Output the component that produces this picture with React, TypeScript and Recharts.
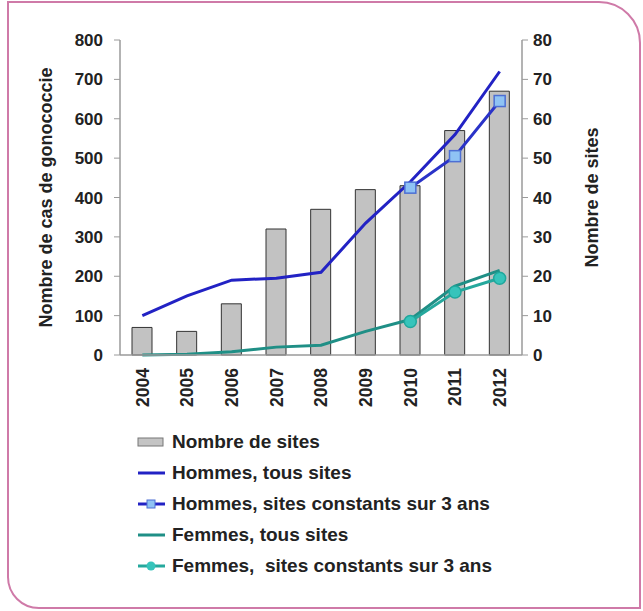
import React from "react";
import {
  ComposedChart,
  Bar,
  Line,
  XAxis,
  YAxis,
} from "recharts";

const years = ["2004", "2005", "2006", "2007", "2008", "2009", "2010", "2011", "2012"];
const nbSites = [7, 6, 13, 32, 37, 42, 43, 57, 67];
const hommesTous = [100, 150, 190, 195, 210, 335, 440, 560, 720];
const hommesConstants = [null, null, null, null, null, null, 425, 505, 645];
const femmesTous = [0, 2, 8, 20, 25, 60, 90, 175, 215];
const femmesConstants = [null, null, null, null, null, null, 85, 160, 195];

const leftTicks = [0, 100, 200, 300, 400, 500, 600, 700, 800];
const rightTicks = [0, 10, 20, 30, 40, 50, 60, 70, 80];

const data = years.map((year, i) => ({
  year,
  sites: nbSites[i],
  hommesTous: hommesTous[i],
  hommesConstants: hommesConstants[i],
  femmesTous: femmesTous[i],
  femmesConstants: femmesConstants[i],
}));

const FONT = "'Liberation Sans', Arial, sans-serif";
const BLUE = "#2222c4";
const TEAL = "#1f8f86";
const AXIS = "#9a9a9a";

const tickStyle = { fontSize: 17, fontWeight: 700, fill: "#222", fontFamily: FONT };
const titleStyle = { fontSize: 18, fontWeight: 700, fill: "#222", fontFamily: FONT };

// year labels, rotated to read bottom-to-top
function YearTick(props: any) {
  const { x, y, payload } = props;
  return (
    <g transform={`translate(${x},${y})`}>
      <text
        transform="rotate(-90)"
        x={-7}
        dy="0.36em"
        textAnchor="end"
        style={{ ...tickStyle, fontSize: 17.5 }}
      >
        {payload.value}
      </text>
    </g>
  );
}

function SquareDot(props: any) {
  const { cx, cy, value } = props;
  if (value == null) return null;
  return (
    <rect
      x={cx - 5.5}
      y={cy - 5.5}
      width={11}
      height={11}
      fill="#8fc3f4"
      stroke="#4d6fd4"
      strokeWidth={1.5}
    />
  );
}

function RoundDot(props: any) {
  const { cx, cy, value } = props;
  if (value == null) return null;
  return <circle cx={cx} cy={cy} r={6} fill="#36c4bb" stroke="#1fa79c" strokeWidth={1.5} />;
}

const legendItems = [
  { label: "Nombre de sites", kind: "bar" },
  { label: "Hommes, tous sites", kind: "line", color: BLUE },
  { label: "Hommes, sites constants sur 3 ans", kind: "square", color: BLUE },
  { label: "Femmes, tous sites", kind: "line", color: TEAL },
  { label: "Femmes,  sites constants sur 3 ans", kind: "circle", color: "#25a89d" },
];

function LegendIcon({ kind, color }: { kind: string; color?: string }) {
  return (
    <svg width={30} height={16} style={{ marginRight: 5 }}>
      {kind === "bar" ? (
        <rect x={1} y={4} width={25} height={8} fill="#c4c4c4" stroke="#777" />
      ) : (
        <line x1={1} y1={8} x2={28} y2={8} stroke={color} strokeWidth={3} />
      )}
      {kind === "square" && (
        <rect x={10} y={4} width={8} height={8} fill="#8fc3f4" stroke="#4d6fd4" />
      )}
      {kind === "circle" && <circle cx={14} cy={8} r={4.5} fill="#36c4bb" />}
    </svg>
  );
}

export default function App() {
  return (
    <div
      style={{
        position: "absolute",
        left: 0,
        top: 0,
        width: 643,
        height: 611,
        background: "#fff",
        fontFamily: FONT,
      }}
    >
      {/* pink frame */}
      <div
        style={{
          position: "absolute",
          left: 7,
          top: 1,
          width: 630,
          height: 604,
          border: "2px solid #cf7aa8",
          borderRadius: "0 42px 0 32px",
        }}
      />
      <ComposedChart
        width={643}
        height={611}
        data={data}
        margin={{ top: 40, right: 0, bottom: 0, left: 0 }}
        style={{ position: "absolute", left: 0, top: 0 }}
      >
        <XAxis
          dataKey="year"
          height={256}
          tick={<YearTick />}
          tickLine={false}
          tickMargin={0}
          axisLine={{ stroke: AXIS, strokeWidth: 1.5 }}
          interval={0}
        />
        <YAxis
          yAxisId="left"
          width={120}
          domain={[0, 800]}
          ticks={leftTicks}
          tick={tickStyle}
          tickSize={6}
          tickMargin={11}
          tickLine={{ stroke: AXIS }}
          axisLine={{ stroke: AXIS, strokeWidth: 1.5 }}
          interval={0}
          label={{
            value: "Nombre de cas de gonococcie",
            angle: -90,
            position: "insideLeft",
            dx: 41,
            style: { ...titleStyle, textAnchor: "middle" },
          }}
        />
        <YAxis
          yAxisId="right"
          orientation="right"
          width={121}
          domain={[0, 80]}
          ticks={rightTicks}
          tick={{ ...tickStyle, textAnchor: "start" }}
          tickSize={6}
          tickMargin={5}
          tickLine={{ stroke: AXIS }}
          axisLine={{ stroke: AXIS, strokeWidth: 1.5 }}
          interval={0}
          label={{
            value: "Nombre de sites",
            angle: -90,
            position: "insideRight",
            dx: -46,
            style: { ...titleStyle, textAnchor: "middle" },
          }}
        />
        <Bar
          yAxisId="right"
          dataKey="sites"
          barSize={20}
          fill="#c2c2c2"
          stroke="#333"
          strokeWidth={1}
          isAnimationActive={false}
        />
        <Line
          yAxisId="left"
          dataKey="femmesTous"
          stroke={TEAL}
          strokeWidth={3}
          dot={false}
          isAnimationActive={false}
        />
        <Line
          yAxisId="left"
          dataKey="femmesConstants"
          stroke="#25a89d"
          strokeWidth={3}
          dot={<RoundDot />}
          isAnimationActive={false}
        />
        <Line
          yAxisId="left"
          dataKey="hommesTous"
          stroke={BLUE}
          strokeWidth={3}
          dot={false}
          isAnimationActive={false}
        />
        <Line
          yAxisId="left"
          dataKey="hommesConstants"
          stroke="#2a33c8"
          strokeWidth={3}
          dot={<SquareDot />}
          isAnimationActive={false}
        />
      </ComposedChart>
      <div style={{ position: "absolute", left: 137, top: 426 }}>
        {legendItems.map((item) => (
          <div
            key={item.label}
            style={{
              display: "flex",
              alignItems: "center",
              height: 31,
              fontSize: 19,
              fontWeight: 700,
              color: "#222",
              whiteSpace: "pre",
            }}
          >
            <LegendIcon kind={item.kind} color={item.color} />
            {item.label}
          </div>
        ))}
      </div>
    </div>
  );
}
